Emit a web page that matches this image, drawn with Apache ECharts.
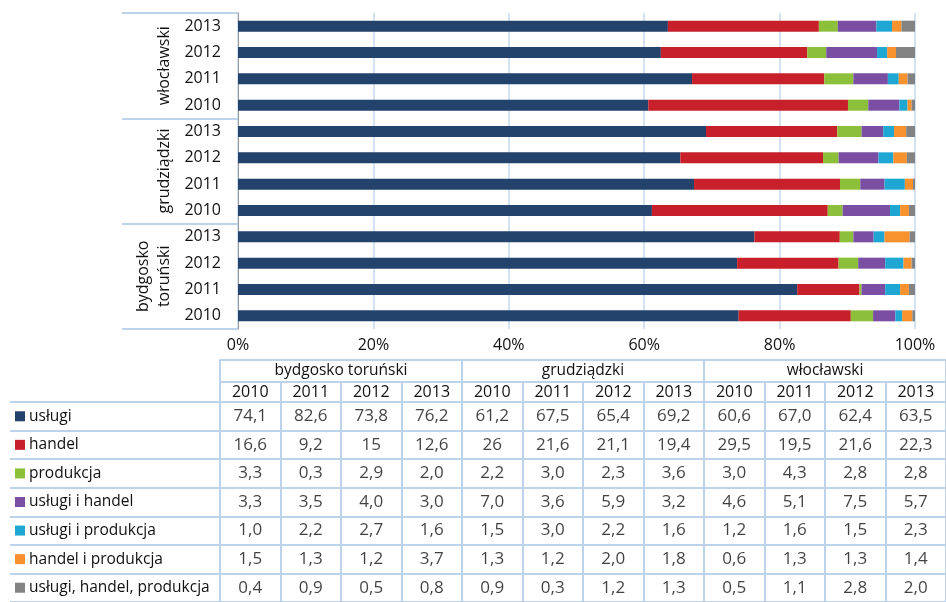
<!DOCTYPE html>
<html>
<head>
<meta charset="utf-8">
<script src="https://cdn.jsdelivr.net/npm/echarts@6/dist/echarts.min.js"></script>
<style>
  html, body { margin: 0; padding: 0; background: #fff; }
</style>
</head>
<body>
<div id="main" style="width:946px;height:602px"></div>
<script>
// columns: powiat x rok (bottom-to-top in chart, left-to-right in table)
const groups = ['bydgosko toruński', 'grudziądzki', 'włocławski']
const years = ['2010', '2011', '2012', '2013']
const seriesNames = ['usługi', 'handel', 'produkcja', 'usługi i handel', 'usługi i produkcja', 'handel i produkcja', 'usługi, handel, produkcja']
const colors = ['#23436c', '#c8202a', '#8cc03a', '#7a4ea3', '#1ea7d3', '#f7922e', '#838383']

// values as printed in the table (udział w %)
const uslugi = ['74.1', '82.6', '73.8', '76.2', '61.2', '67.5', '65.4', '69.2', '60.6', '67.0', '62.4', '63.5']
const handel = ['16.6', '9.2', '15', '12.6', '26', '21.6', '21.1', '19.4', '29.5', '19.5', '21.6', '22.3']
const produkcja = ['3.3', '0.3', '2.9', '2.0', '2.2', '3.0', '2.3', '3.6', '3.0', '4.3', '2.8', '2.8']
const uslugiHandel = ['3.3', '3.5', '4.0', '3.0', '7.0', '3.6', '5.9', '3.2', '4.6', '5.1', '7.5', '5.7']
const uslugiProdukcja = ['1.0', '2.2', '2.7', '1.6', '1.5', '3.0', '2.2', '1.6', '1.2', '1.6', '1.5', '2.3']
const handelProdukcja = ['1.5', '1.3', '1.2', '3.7', '1.3', '1.2', '2.0', '1.8', '0.6', '1.3', '1.3', '1.4']
const wszystkie = ['0.4', '0.9', '0.5', '0.8', '0.9', '0.3', '1.2', '1.3', '0.5', '1.1', '2.8', '2.0']

const rows = [uslugi, handel, produkcja, uslugiHandel, uslugiProdukcja, handelProdukcja, wszystkie]

const font = 'Open Sans'
const lineBlue = '#bcd3eb'
const textColor = '#111'

const categories = []
groups.forEach((g) => {
  years.forEach((y) => categories.push(g + ' ' + y))
})

// 100% stacked: each column normalised to its sum
const totals = categories.map((c, i) => rows.reduce((s, r) => s + parseFloat(r[i]), 0))

const barSeries = rows.map((r, k) => ({
  name: seriesNames[k],
  type: 'bar',
  stack: 'all',
  xAxisIndex: 0,
  yAxisIndex: 0,
  barWidth: 11,
  itemStyle: { color: colors[k] },
  data: r.map((v, i) => parseFloat(v) / totals[i] * 100)
}))

// table cells
const cellData = []
rows.forEach((r, k) => {
  r.forEach((v, i) => cellData.push([i, k, v]))
})

const rich = { t: { fontFamily: font, fontSize: 15.5, color: textColor } }
colors.forEach((c, k) => {
  rich['s' + k] = { width: 10, height: 10, backgroundColor: c }
})

const blueLine = { show: true, lineStyle: { color: lineBlue, width: 2 } }

const myChart = echarts.init(document.getElementById('main'))
myChart.setOption({
  animation: false,
  textStyle: { fontFamily: font },
  grid: [
    { left: 238, right: 31, top: 13, bottom: 273 },
    { left: 220, right: -8, top: 402, bottom: -5 }
  ],
  xAxis: [
    {
      gridIndex: 0,
      type: 'value',
      min: 0,
      max: 100,
      interval: 20,
      axisLine: { show: false },
      axisTick: { show: false },
      splitLine: { show: true, lineStyle: { color: '#c6daef', width: 1.5 } },
      axisLabel: { formatter: '{value}%', color: textColor, fontSize: 16, margin: 8 }
    },
    {
      gridIndex: 1,
      type: 'category',
      position: 'top',
      data: categories,
      axisLine: blueLine,
      axisTick: { show: true, length: 20, lineStyle: { color: lineBlue, width: 2 } },
      splitLine: blueLine,
      axisLabel: {
        interval: 0,
        margin: 10,
        verticalAlign: 'middle',
        color: textColor,
        fontSize: 16,
        formatter: (v, i) => years[i % 4]
      }
    },
    {
      gridIndex: 1,
      type: 'category',
      position: 'top',
      offset: 20,
      data: groups,
      axisLine: blueLine,
      axisTick: { show: true, length: 22, lineStyle: { color: lineBlue, width: 2 } },
      axisLabel: { interval: 0, margin: 11, verticalAlign: 'middle', color: textColor, fontSize: 15.5 }
    },
    {
      gridIndex: 1,
      type: 'category',
      position: 'top',
      offset: 42,
      data: [''],
      axisLine: blueLine,
      axisTick: { show: false },
      axisLabel: { show: false }
    }
  ],
  yAxis: [
    {
      gridIndex: 0,
      type: 'category',
      data: categories,
      axisLine: { show: true, lineStyle: { color: '#9a9a9a', width: 1 } },
      axisTick: { show: false },
      axisLabel: {
        interval: 0,
        margin: 17,
        color: textColor,
        fontSize: 16,
        formatter: (v, i) => years[i % 4]
      }
    },
    {
      gridIndex: 0,
      type: 'category',
      position: 'left',
      data: ['bydgosko\ntoruński', 'grudziądzki', 'włocławski'],
      axisLine: { show: false },
      axisTick: { show: true, length: 116, lineStyle: { color: lineBlue, width: 2 } },
      axisLabel: {
        interval: 0,
        rotate: 90,
        margin: 63,
        verticalAlign: 'bottom',
        color: textColor,
        fontSize: 16,
        lineHeight: 21
      }
    },
    {
      gridIndex: 1,
      type: 'category',
      inverse: true,
      data: seriesNames,
      axisLine: blueLine,
      axisTick: { show: true, length: 210, lineStyle: { color: lineBlue, width: 2 } },
      splitLine: blueLine,
      axisLabel: {
        interval: 0,
        margin: 205,
        align: 'left',
        formatter: (v, i) => '{s' + i + '| }{t| ' + v + '}',
        rich: rich
      }
    },
    {
      gridIndex: 1,
      type: 'category',
      inverse: true,
      offset: 210,
      data: seriesNames,
      axisLine: blueLine,
      axisTick: { show: false },
      axisLabel: { show: false }
    }
  ],
  series: barSeries.concat([{
    name: 'tabela',
    type: 'scatter',
    xAxisIndex: 1,
    yAxisIndex: 2,
    symbolSize: 0,
    silent: true,
    label: {
      show: true,
      position: 'inside',
      color: textColor,
      fontSize: 17,
      formatter: (p) => p.data[2].replace('.', ',')
    },
    data: cellData
  }])
})
</script>
</body>
</html>
